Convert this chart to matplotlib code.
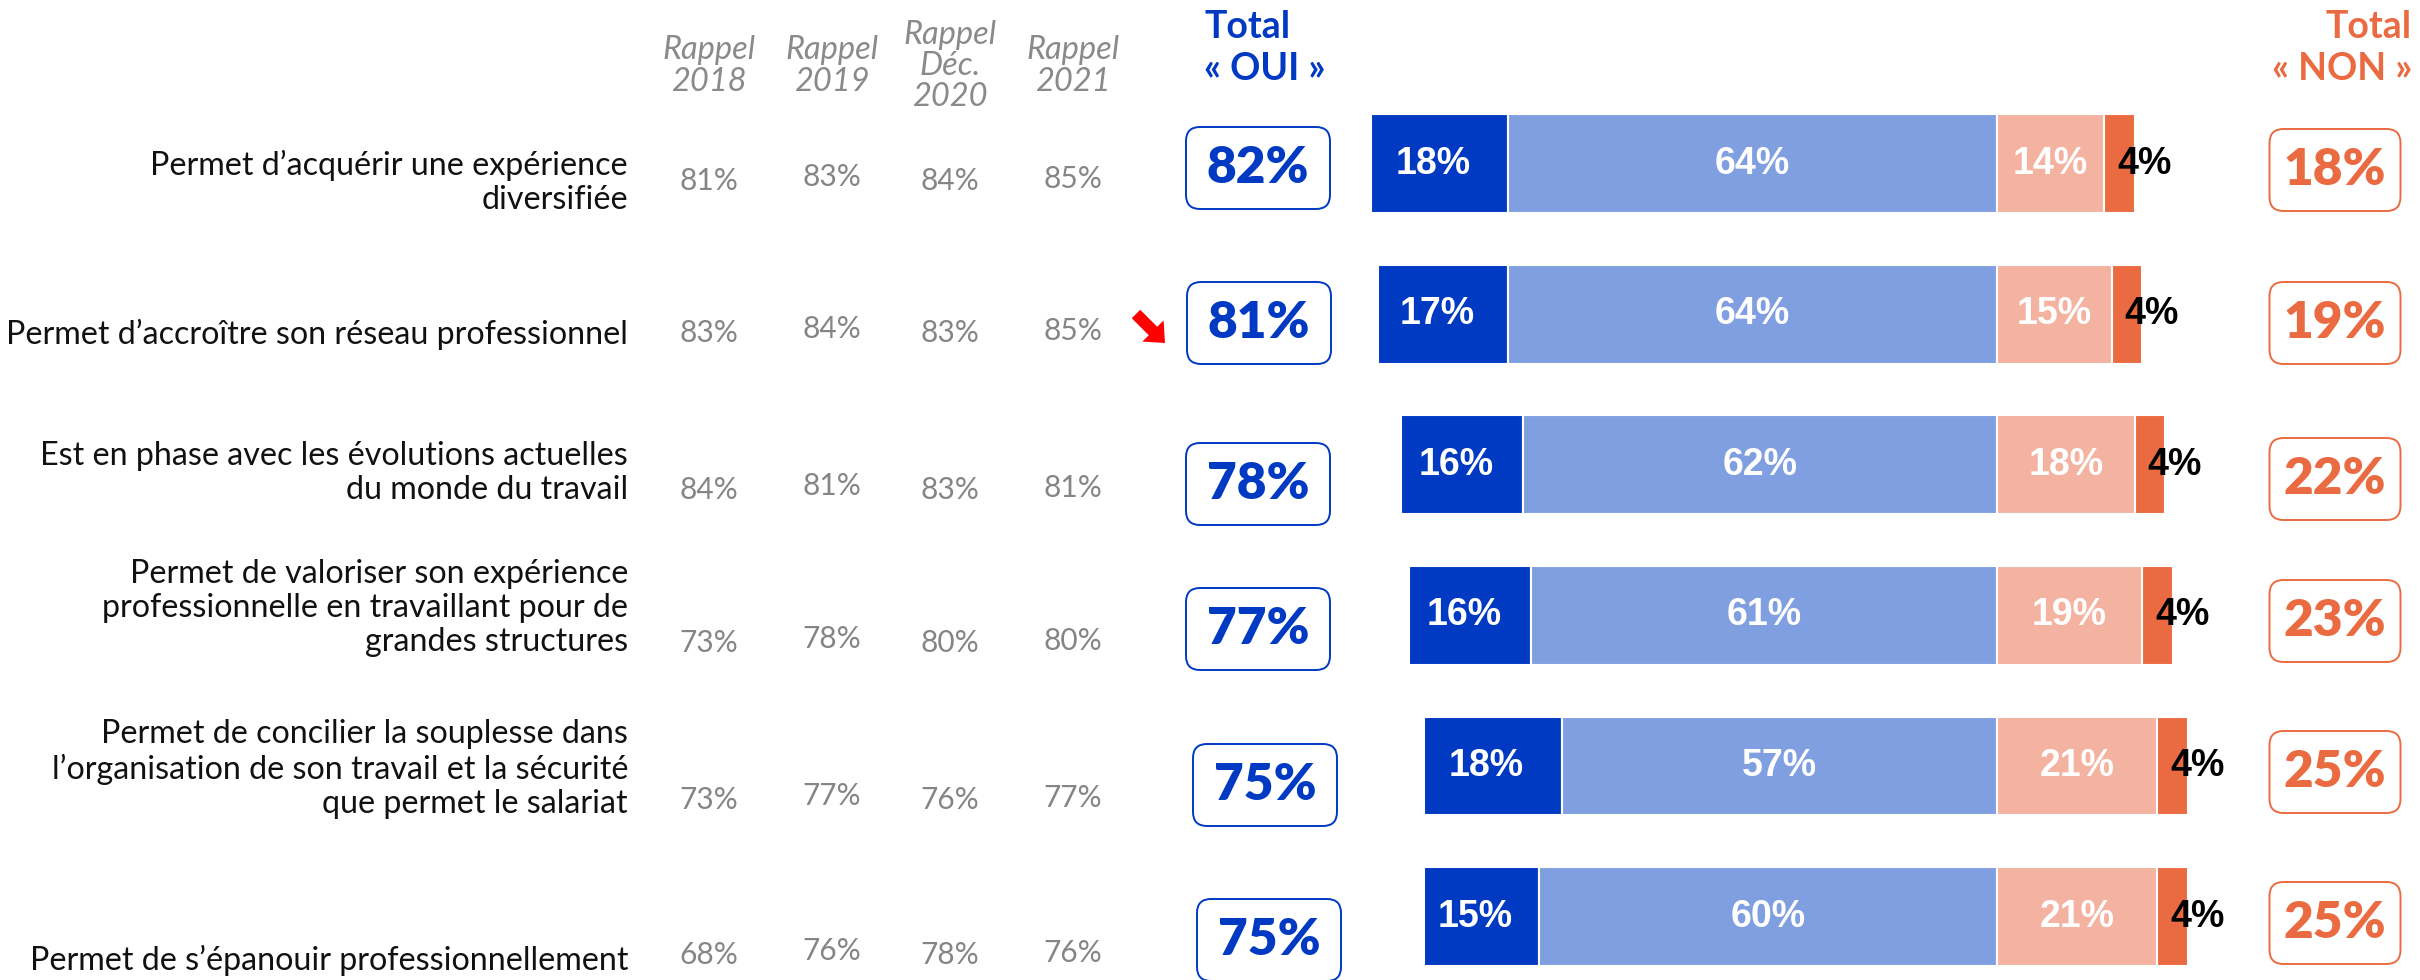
import matplotlib
matplotlib.use("Agg")
import matplotlib.pyplot as plt
from matplotlib.patches import FancyBboxPatch, FancyArrow

# ---------------- data ----------------
labels = [
    "Permet d’acquérir une expérience\ndiversifiée",
    "Permet d’accroître son réseau professionnel",
    "Est en phase avec les évolutions actuelles\ndu monde du travail",
    "Permet de valoriser son expérience\nprofessionnelle en travaillant pour de\ngrandes structures",
    "Permet de concilier la souplesse dans\nl’organisation de son travail et la sécurité\nque permet le salariat",
    "Permet de s’épanouir professionnellement",
]
rappel_headers = ["Rappel\n2018", "Rappel\n2019", "Rappel\nDéc.\n2020", "Rappel\n2021"]
rappel_2018 = [81, 83, 84, 73, 73, 68]
rappel_2019 = [83, 84, 81, 78, 77, 76]
rappel_2020 = [84, 83, 83, 80, 76, 78]
rappel_2021 = [85, 85, 81, 80, 77, 76]
total_oui = [82, 81, 78, 77, 75, 75]
oui_tout_a_fait = [18, 17, 16, 16, 18, 15]
oui_plutot = [64, 64, 62, 61, 57, 60]
non_plutot_pas = [14, 15, 18, 19, 21, 21]
non_pas_du_tout = [4, 4, 4, 4, 4, 4]
total_non = [18, 19, 22, 23, 25, 25]
trend = [None, "down", None, None, None, None]

# ---------------- style ----------------
W, H = 2420, 980
BLUE_D = "#003AC2"
BLUE_L = "#809FE0"
OR_L = "#F4B3A0"
OR_D = "#EA6B42"
GREY = "#858585"
FONT = ["Lato", "DejaVu Sans"]
BARFONT = ["Liberation Sans", "DejaVu Sans"]

fig = plt.figure(figsize=(W / 100, H / 100), dpi=100)

# text / layout axes in pixel coordinates
ax_t = fig.add_axes([0, 0, 1, 1])
ax_t.set_xlim(0, W)
ax_t.set_ylim(H, 0)
ax_t.axis("off")

# bar axes (x in %, y in row index)
px_per_pct = 7.64
zero_px = 1997
bx0, bx1 = 1340, 2260
row0_px, row_pitch = 163.6, 150.6
ax_b = fig.add_axes([bx0 / W, 0, (bx1 - bx0) / W, 1])
ax_b.set_xlim(-(zero_px - bx0) / px_per_pct, (bx1 - zero_px) / px_per_pct)
ax_b.set_ylim((H - row0_px) / row_pitch, -row0_px / row_pitch)
ax_b.axis("off")
ax_b.patch.set_alpha(0)

n = len(labels)
ys = list(range(n))
bh = 0.656
neg_left_d = [-(a + b) for a, b in zip(oui_tout_a_fait, oui_plutot)]
neg_left_l = [-b for b in oui_plutot]
ax_b.barh(ys, oui_tout_a_fait, left=neg_left_d, height=bh, color=BLUE_D, edgecolor="white", linewidth=1.5)
ax_b.barh(ys, oui_plutot, left=neg_left_l, height=bh, color=BLUE_L, edgecolor="white", linewidth=1.5)
ax_b.barh(ys, non_plutot_pas, left=0, height=bh, color=OR_L, edgecolor="white", linewidth=1.5)
ax_b.barh(ys, non_pas_du_tout, left=non_plutot_pas, height=bh, color=OR_D, edgecolor="white", linewidth=1.5)

bkw = dict(family=BARFONT, fontweight="bold", fontsize=27, va="center")
for i in range(n):
    a, b, c, d = oui_tout_a_fait[i], oui_plutot[i], non_plutot_pas[i], non_pas_du_tout[i]
    ax_b.text(-b - a / 2 - 0.8, i, f"{a}%", color="white", ha="center", **bkw)
    ax_b.text(-b / 2, i, f"{b}%", color="white", ha="center", **bkw)
    ax_b.text(c / 2, i, f"{c}%", color="white", ha="center", **bkw)
    ax_b.text(c + d / 2 - 0.3, i, f"{d}%", color="black", ha="left", **bkw)

# ---------------- left labels ----------------
label_x = 628
label_y = [182, 334, 473, 608, 769, 960]
for lab, y in zip(labels, label_y):
    ax_t.text(label_x, y, lab, ha="right", va="center", multialignment="right",
              fontsize=23.2, family=FONT, fontweight="normal", color="#111111", linespacing=1.17)

# ---------------- rappel columns ----------------
col_x = [709, 832, 950, 1073]
col_dy = [0, -4, 0, -2]
row_y = [181, 333, 490, 643, 800, 955]
for hx, h in zip(col_x, rappel_headers):
    ax_t.text(hx, 66, h, ha="center", va="center", fontsize=23.5, family=FONT,
              style="italic", fontweight="normal", color="#8A8A8A", linespacing=1.05)
for cx, dy, vals in zip(col_x, col_dy, [rappel_2018, rappel_2019, rappel_2020, rappel_2021]):
    for y, v in zip(row_y, vals):
        ax_t.text(cx, y + dy, f"{v}%", ha="center", va="center", fontsize=21.5,
                  family=FONT, fontweight="normal", color=GREY)

# trend arrows
for y, t in zip(row_y, trend):
    if t == "down":
        ax_t.add_patch(FancyArrow(1136, y - 19, 29, 29, width=12, head_width=30,
                                  head_length=17, length_includes_head=True,
                                  color="#FF0000", lw=0))

# ---------------- totals ----------------
ax_t.text(1265, 48, "Total\n« OUI »", ha="center", va="center", multialignment="left",
          fontsize=27, family=FONT, fontweight="bold", color=BLUE_D, linespacing=1.25)
ax_t.text(2412, 48, "Total\n« NON »", ha="right", va="center", multialignment="right",
          fontsize=27, family=FONT, fontweight="bold", color=OR_D, linespacing=1.25)

oui_x = [1258, 1259, 1258, 1258, 1265, 1269]
oui_y = [168, 323, 484, 629, 785, 940]
non_x = [2335] * n
non_y = [170, 323, 479, 621, 772, 923]
bw_o, bw_n, bhh = 144, 131, 82
for x, y, v in zip(oui_x, oui_y, total_oui):
    ax_t.add_patch(FancyBboxPatch((x - bw_o / 2, y - bhh / 2), bw_o, bhh,
                                  boxstyle="round,pad=0,rounding_size=14",
                                  facecolor="white", edgecolor=BLUE_D, lw=1.4))
    ax_t.text(x, y, f"{v}%", ha="center", va="center", fontsize=37, family=FONT,
              fontweight="heavy", color=BLUE_D)
for x, y, v in zip(non_x, non_y, total_non):
    ax_t.add_patch(FancyBboxPatch((x - bw_n / 2, y - bhh / 2), bw_n, bhh,
                                  boxstyle="round,pad=0,rounding_size=14",
                                  facecolor="white", edgecolor=OR_D, lw=1.4))
    ax_t.text(x, y, f"{v}%", ha="center", va="center", fontsize=37, family=FONT,
              fontweight="heavy", color=OR_D)

fig.savefig("out.png", dpi=100)
